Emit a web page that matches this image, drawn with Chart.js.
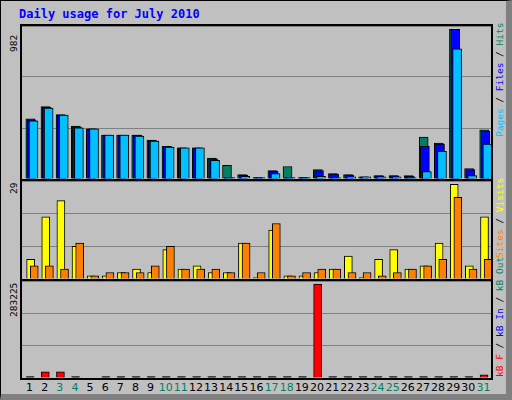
<!DOCTYPE html>
<html><head><meta charset="utf-8">
<script src="https://cdn.jsdelivr.net/npm/chart.js@4/dist/chart.umd.min.js"></script>
<style>
body{margin:0;background:#C0C0C0}
#frame{position:absolute;left:0;top:0;width:505px;height:393px;background:#C0C0C0;border:1px solid #000;border-right:6px solid #808080;border-bottom:6px solid #808080}
.p{position:absolute;left:20px;width:469px;border:2px solid #000;box-sizing:content-box}
canvas{position:absolute;left:0;top:0}
.t{position:absolute;font-family:"DejaVu Sans Mono",monospace;font-size:12px;white-space:nowrap}
.rot{transform-origin:0 0;transform:rotate(-90deg);font-size:9.5px}
#days{position:absolute;left:22px;top:381px;width:469px;font-family:"DejaVu Sans",sans-serif;font-size:11px}
#days span{position:absolute;width:15.13px;text-align:center;display:block}
</style></head><body>
<div id="frame"></div>
<div class="t" style="left:19px;top:7px;color:#0000FF;font-weight:bold">Daily usage for July 2010</div>
<div class="p" style="top:24px;height:153px"><canvas id="c1"></canvas></div>
<div class="p" style="top:179px;height:98px"><canvas id="c2"></canvas></div>
<div class="p" style="top:279px;height:97px"><canvas id="c3"></canvas></div>
<div class="t rot" style="left:8px;top:52px">982</div>
<div class="t rot" style="left:8px;top:194px">29</div>
<div class="t rot" style="left:8px;top:317px">283225</div>
<div class="t rot" style="left:494px;top:137px"><span style="color:#00C0FF">Pages</span> / <span style="color:#0000FF">Files</span> / <span style="color:#008060">Hits</span></div>
<div class="t rot" style="left:494px;top:258px"><span style="color:#FF8000">Sites</span> / <span style="color:#FFFF00">Visits</span></div>
<div class="t rot" style="left:494px;top:377px"><span style="color:#FF0000">kB F</span> / <span style="color:#0000FF">kB In</span> / <span style="color:#008060">kB Out</span></div>
<div id="days"></div>
<script>
const days=[1,2,3,4,5,6,7,8,9,10,11,12,13,14,15,16,17,18,19,20,21,22,23,24,25,26,27,28,29,30,31];
const weekends=[3,4,10,11,17,18,24,25,31];
const hits=[395,475,422,348,329,289,289,289,255,215,204,204,138,89,29,10,56,82,3,62,36,29,15,22,22,22,275,235,982,69,322];
const files=[388,470,420,342,329,289,289,289,252,212,204,204,132,2,24,8,50,2,2,55,33,25,15,20,20,18,215,229,982,62,315];
const pages=[382,466,420,335,329,289,289,282,249,209,204,204,122,1,18,5,36,1,1,18,7,15,15,15,15,7,49,182,854,22,229];
const visits=[6,19,24,10,1,1,2,3,2,9,3,4,2,2,11,0,15,1,1,2,3,7,0,6,9,3,4,11,29,4,19];
const sites=[4,4,3,11,1,2,2,2,4,10,3,3,3,2,11,2,17,1,2,3,3,2,2,1,2,3,4,6,25,3,6];
const kbF=[0,18600,18600,0,null,0,0,0,0,0,0,0,0,0,0,0,0,0,0,283225,0,0,0,0,0,0,0,0,0,0,9300];
const dEl=document.getElementById('days');
days.forEach((d,i)=>{const s=document.createElement('span');s.textContent=d;s.style.left=(i*469/31)+'px';s.style.color=weekends.includes(d)?'#008060':'#000';dEl.appendChild(s);});
function ds(vals,shift,color,w,zeroColor){return {data:vals.map((v,i)=>({x:days[i]+shift,y:v})),
 backgroundColor:zeroColor?(c=>c.raw&&c.raw.y>0?color:zeroColor):color,borderColor:'#000',borderWidth:1,barThickness:w,minBarLength:1.5,grouped:false,borderSkipped:'bottom'};}
function make(id,h,ymax,sets){
 const c=document.getElementById(id);c.width=469;c.height=h;c.style.width='469px';c.style.height=h+'px';
 new Chart(c,{type:'bar',data:{datasets:sets},options:{responsive:false,animation:false,devicePixelRatio:1,
  layout:{padding:0},plugins:{legend:{display:false},tooltip:{enabled:false}},
  scales:{x:{type:'linear',min:0.5,max:31.5,offset:false,display:false},
   y:{min:0,max:ymax,ticks:{display:false,stepSize:ymax/3},border:{display:false},grid:{color:'#808080',lineWidth:1,drawTicks:false,tickLength:0}}}}});
}
make('c1',153,1004,[ds(pages,0.26,'#00C0FF',9),ds(files,0.13,'#0000FF',9),ds(hits,0.05,'#008060',9)]);
make('c2',98,30,[ds(sites,0.31,'#FF8000',8),ds(visits,0.07,'#FFFF00',8)]);
make('c3',97,292500,[ds(kbF,0.04,'#FF0000',8,'#000000')]);
</script></body></html>
